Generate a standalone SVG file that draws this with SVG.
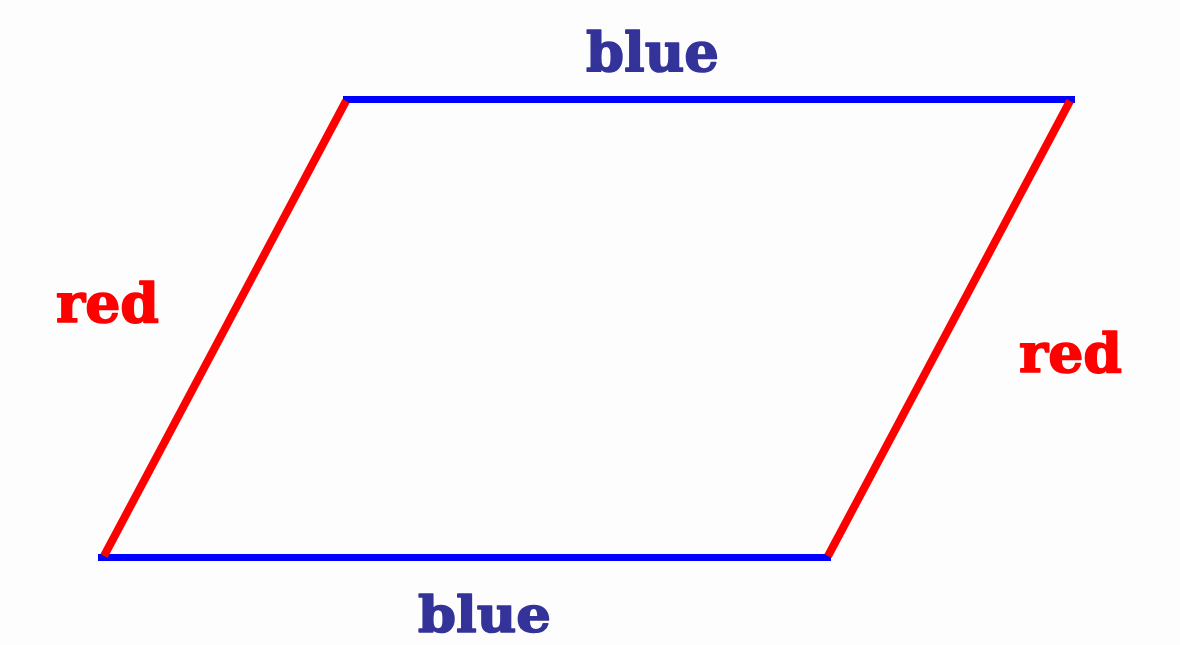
<svg xmlns="http://www.w3.org/2000/svg" width="1180" height="645" viewBox="0 0 1180 645">
<style>
.b{stroke:#0000ff;stroke-width:7;fill:none}
.r{stroke:#ff0000;stroke-width:8;fill:none}
.lb{font-family:"DejaVu Serif","Liberation Serif",serif;font-weight:bold;font-size:54px;fill:#333399;stroke:#333399;stroke-width:1.6;stroke-linejoin:round}
.lr{font-family:"DejaVu Serif","Liberation Serif",serif;font-weight:bold;font-size:54px;fill:#ff0000;stroke:#ff0000;stroke-width:1.6;stroke-linejoin:round}
</style>
<rect width="1180" height="645" fill="#fdfdfd"/>
<g id="edges">
<line class="b" x1="343" y1="99.5" x2="1075" y2="99.5"/>
<line class="b" x1="98" y1="557.5" x2="831" y2="557.5"/>
<line class="r" x1="104" y1="556" x2="346" y2="101"/>
<line class="r" x1="828" y1="556" x2="1070" y2="101"/>
</g>
<g id="labels">
<text class="lb" x="586" y="71" textLength="133" lengthAdjust="spacingAndGlyphs">blue</text>
<text class="lb" x="418" y="632" font-size="50" textLength="133" lengthAdjust="spacingAndGlyphs" style="font-size:50px">blue</text>
<text class="lr" x="56" y="322" textLength="103" lengthAdjust="spacingAndGlyphs">red</text>
<text class="lr" x="1019" y="372" textLength="103" lengthAdjust="spacingAndGlyphs">red</text>
</g>
</svg>
